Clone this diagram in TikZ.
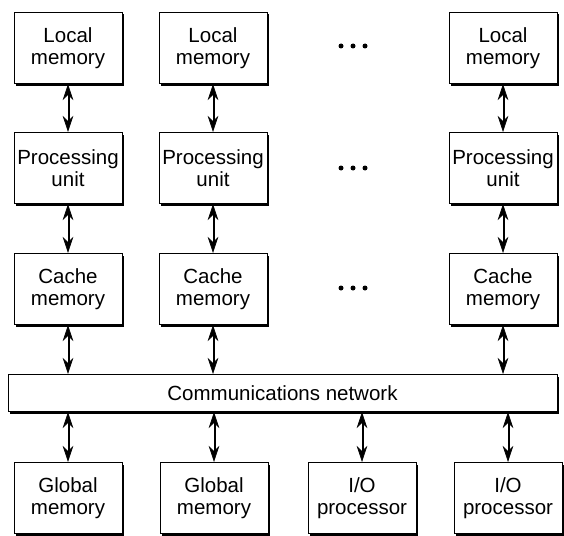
\documentclass[tikz,border=0pt]{standalone}
\usepackage{fontspec}
\setmainfont{Liberation Sans}
\usetikzlibrary{arrows.meta,shadows}
\begin{document}
\begin{tikzpicture}[x=1pt,y=-1pt,
  box/.style={draw,line width=1pt,fill=white,minimum width=108pt,minimum height=71pt,
    align=center,font=\fontsize{20.5}{22}\selectfont,inner sep=0pt,
    drop shadow={shadow xshift=2pt,shadow yshift=-2pt,fill=black,opacity=1}},
  netbox/.style={box,minimum width=549pt,minimum height=37pt},
  biarrow/.style={line width=0.6pt,
    {Stealth[length=16pt,width=10.5pt,inset=5pt]}-{Stealth[length=16pt,width=10.5pt,inset=5pt]},
    postaction={draw,line width=0.5pt,-,shorten <=10pt,shorten >=10pt,
      transform canvas={xshift=1.6pt}}},
  dot/.style={fill=black,draw=none,circle,minimum size=5pt,inner sep=0pt}]
\useasboundingbox (0,0) rectangle (564,535);
% Row 1: local memories
\node[box] (lm1) at (68,48) {Local\\memory};
\node[box] (lm2) at (213,48) {Local\\memory};
\node[box] (lm4) at (503,48) {Local\\memory};
% Row 2: processing units
\node[box] (pu1) at (68,168) {Processing\\unit};
\node[box] (pu2) at (213,168) {Processing\\unit};
\node[box] (pu4) at (503,168) {Processing\\unit};
% Row 3: caches
\node[box] (cm1) at (68,289) {Cache\\memory};
\node[box] (cm2) at (213,289) {Cache\\memory};
\node[box] (cm4) at (503,289) {Cache\\memory};
% Network
\node[netbox] (net) at (282.5,393) {Communications network};
% Bottom row
\node[box] (gm1) at (68,498) {Global\\memory};
\node[box] (gm2) at (214,498) {Global\\memory};
\node[box] (io1) at (362,498) {I/O\\processor};
\node[box] (io2) at (508,498) {I/O\\processor};
% Dots
\foreach \r/\yy in {a/46,b/168,c/288}{
  \node[dot] (d1\r) at (341,\yy) {};
  \node[dot] (d2\r) at (353,\yy) {};
  \node[dot] (d3\r) at (365,\yy) {};
}
% Arrows
\foreach \c in {1,2,4}{
  \draw[biarrow] (lm\c.south) -- (pu\c.north);
  \draw[biarrow] (pu\c.south) -- (cm\c.north);
  \draw[biarrow] (cm\c.south) -- (net.north -| cm\c.south);
}
\foreach \b in {gm1,gm2,io1,io2}{
  \draw[biarrow] (net.south -| \b.north) -- (\b.north);
}
\end{tikzpicture}
\end{document}
